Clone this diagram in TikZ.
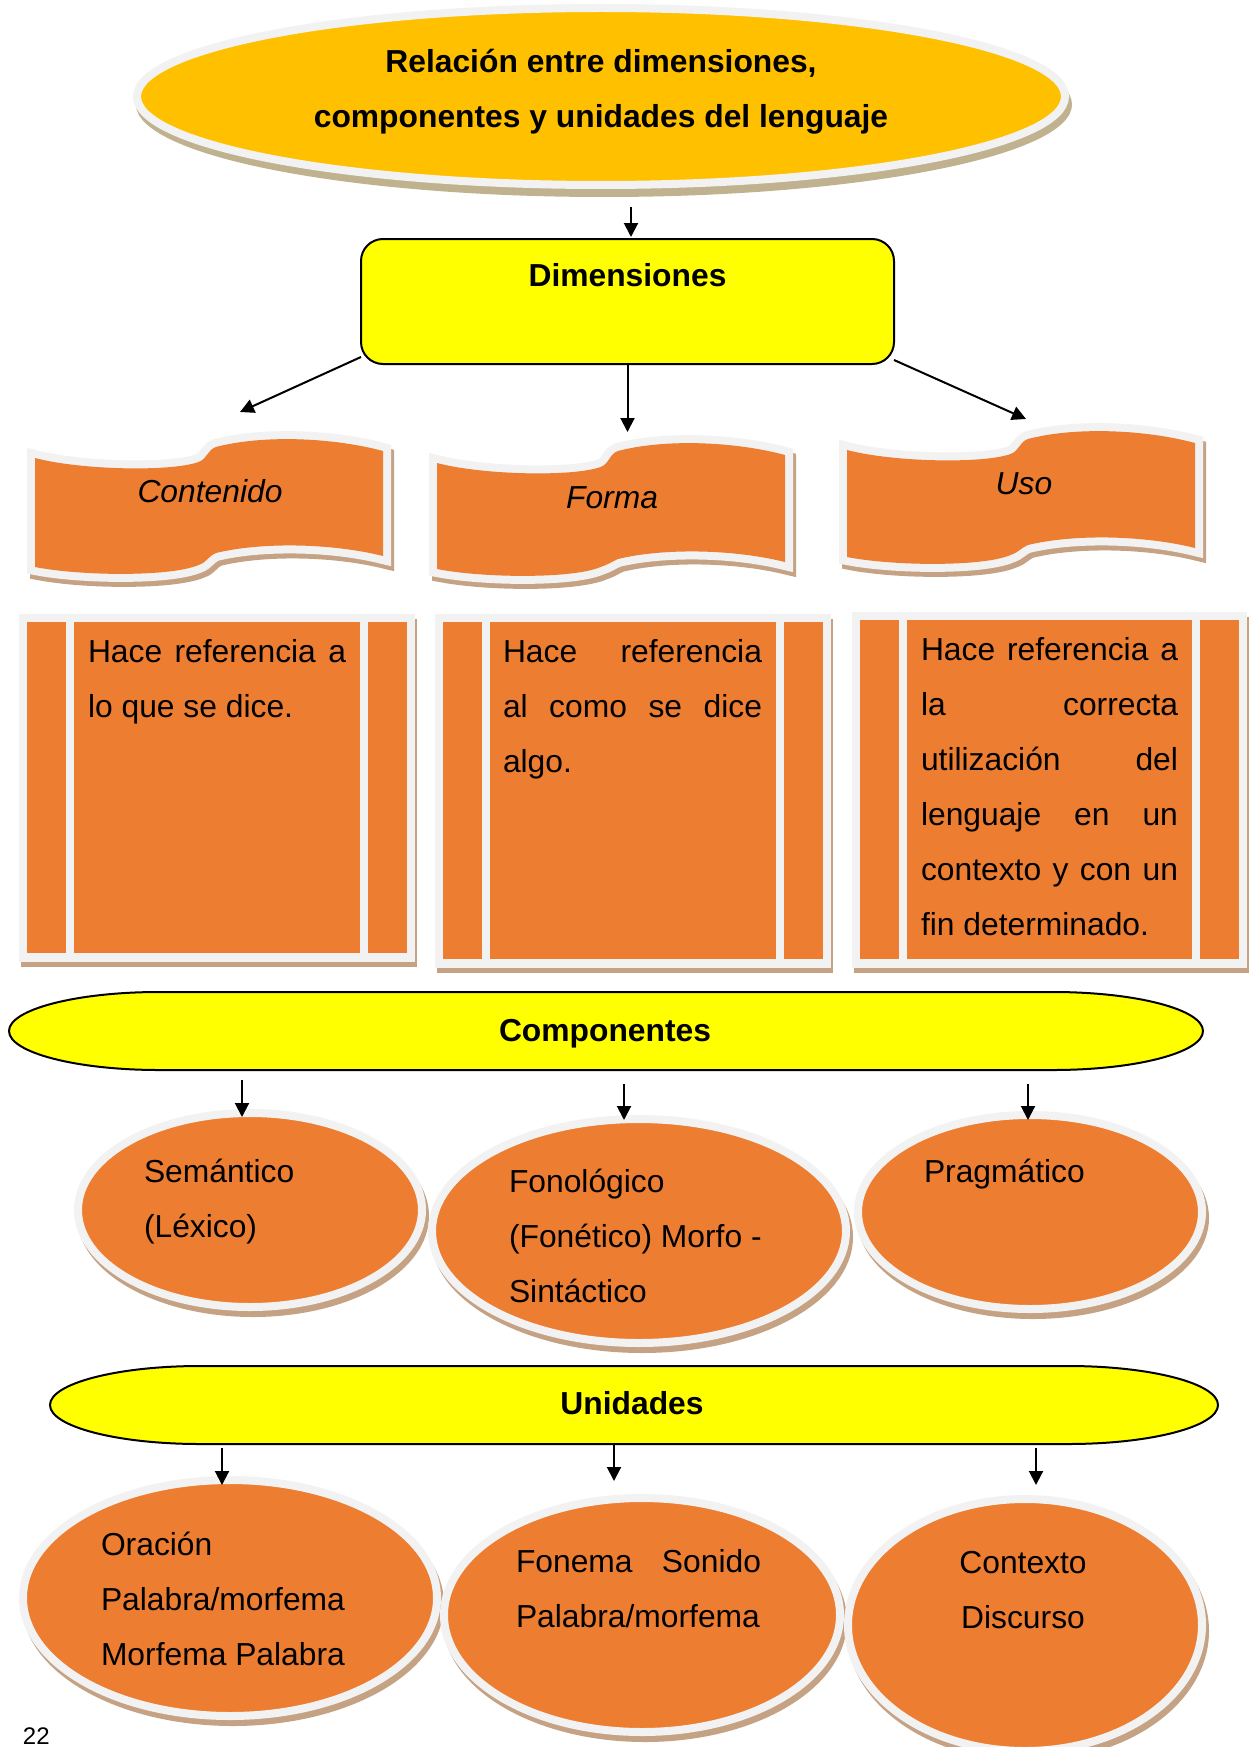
\documentclass[tikz,border=0pt]{standalone}
\usepackage{fontspec}
\setmainfont{Liberation Sans}
\usetikzlibrary{shapes.geometric,arrows.meta}
\definecolor{orng}{HTML}{ED7D31}
\definecolor{ring}{HTML}{F2F2F2}
\definecolor{shad}{RGB}{198,162,132}
\definecolor{tshad}{RGB}{192,178,142}
\definecolor{gold}{HTML}{FFC000}
\definecolor{yel}{HTML}{FFFF00}
\newcommand{\bigf}{\fontsize{31.8}{55}\selectfont}
\newcommand{\jst}{\spaceskip=0.278em plus 6em\relax\tolerance=10000 \hbadness=10000 }
% wave: L R TL TR BL BR
\newcommand{\wavep}[6]{(#1,#3) .. controls ({#1+.13*(#2-#1)},{#3+12}) and ({#1+.39*(#2-#1)},{#3+14}) .. ({#1+.47*(#2-#1)},{#3+4}) .. controls ({#1+.495*(#2-#1)},{#3+1}) and ({#1+.495*(#2-#1)},{#4-1}) .. ({#1+.52*(#2-#1)},{#4-4}) .. controls ({#1+.65*(#2-#1)},{#4-16}) and ({#1+.85*(#2-#1)},{#4-14}) .. (#2,#4) -- (#2,#6) .. controls ({#1+.85*(#2-#1)},{#6-13}) and ({#1+.65*(#2-#1)},{#6-14}) .. ({#1+.52*(#2-#1)},{#6-3}) .. controls ({#1+.495*(#2-#1)},{#6+1}) and ({#1+.495*(#2-#1)},{#5-5}) .. ({#1+.47*(#2-#1)},{#5-2}) .. controls ({#1+.39*(#2-#1)},{#5+10}) and ({#1+.13*(#2-#1)},{#5+9}) .. (#1,#5) -- cycle}
% capped oval: cx cy rx ry a
\newcommand{\capov}[5]{({#1-#3},#2) .. controls ({#1-#3},{#2-0.552*#4}) and ({#1-#3+0.448*#5},{#2-#4}) .. ({#1-#3+#5},{#2-#4}) -- ({#1+#3-#5},{#2-#4}) .. controls ({#1+#3-0.448*#5},{#2-#4}) and ({#1+#3},{#2-0.552*#4}) .. ({#1+#3},#2) .. controls ({#1+#3},{#2+0.552*#4}) and ({#1+#3-0.448*#5},{#2+#4}) .. ({#1+#3-#5},{#2+#4}) -- ({#1-#3+#5},{#2+#4}) .. controls ({#1-#3+0.448*#5},{#2+#4}) and ({#1-#3},{#2+0.552*#4}) .. cycle}
% panel: L T R B
\newcommand{\panelbox}[4]{%
  \fill[shad] ({#1+2},{#2+5}) rectangle ({#3+2},{#4+5});
  \fill[ring] (#1,#2) rectangle (#3,#4);
  \fill[orng] ({#1+8},{#2+8}) rectangle ({#1+47},{#4-9});
  \fill[orng] ({#1+55},{#2+8}) rectangle ({#3-55},{#4-9});
  \fill[orng] ({#3-47},{#2+8}) rectangle ({#3-8},{#4-9});}
% oval: name cx cy rx ry
\newcommand{\ovl}[5]{%
  \fill[shad] ({#2+3},{#3+6}) ellipse [x radius={#4+4}, y radius={#5+4}];
  \node[ovalnode, minimum width={2*#4}, minimum height={2*#5}] (#1) at (#2,#3) {};}
\begin{document}
\begin{tikzpicture}[x=1pt,y=-1pt,
  every node/.style={inner sep=0pt, outer sep=0pt},
  font=\bigf,
  arr/.style={line width=2pt,-{Triangle[length=14pt,width=14pt]}},
  ovalnode/.style={ellipse, fill=orng, draw=ring, line width=8pt},
  bar/.style={draw=black, line width=2pt, fill=yel},
  head/.style={anchor=base, font=\bigf\bfseries},
  lbl/.style={anchor=base, font=\bigf\itshape}]
\fill[white] (0,0) rectangle (1248,1747);
\useasboundingbox (0,0) rectangle (1248,1747);

% Title
\fill[tshad] (604,104.5) ellipse [x radius=468, y radius=92.5];
\node[ellipse, fill=gold, draw=ring, line width=8pt, minimum width=928pt, minimum height=177pt] (title) at (601,96.5) {};
\node[head] (ttxt) at (601,73) {\begin{minipage}[t]{800pt}\centering Relación entre dimensiones,\\ componentes y unidades del lenguaje\end{minipage}};

% Dimensiones
\node[draw=black, line width=2pt, fill=yel, rounded corners=22pt, minimum width=533pt, minimum height=125pt] (dim) at (627.5,301.5) {};
\node[head] (dimt) at (627.5,286) {Dimensiones};
\coordinate (a0) at (631,237);
\draw[arr, shorten <=22pt] (title.south -| a0) -- (a0);

% Waves
\begin{scope}[line width=16pt]
  \filldraw[shad, shift={(3,5)}] \wavep{35}{383}{458}{451}{567}{556};
  \filldraw[shad, shift={(3,5)}] \wavep{437}{785}{463}{455}{569}{562};
  \filldraw[shad, shift={(3,5)}] \wavep{847}{1195}{450}{443}{557}{548};
  \draw[ring] \wavep{35}{383}{458}{451}{567}{556};
  \draw[ring] \wavep{437}{785}{463}{455}{569}{562};
  \draw[ring] \wavep{847}{1195}{450}{443}{557}{548};
  \fill[orng] \wavep{35}{383}{458}{451}{567}{556};
  \fill[orng] \wavep{437}{785}{463}{455}{569}{562};
  \fill[orng] \wavep{847}{1195}{450}{443}{557}{548};
\end{scope}
\node[lbl] (cont) at (210,502) {Contenido};
\node[lbl] (forma) at (612,508) {Forma};
\node[lbl] (uso) at (1024,494) {Uso};

\coordinate (cont-in) at (240,412);
\coordinate (forma-in) at (627.5,432);
\coordinate (uso-in) at (1026,419);
\draw[arr] ([yshift=7pt]dim.south west) -- (cont-in);
\draw[arr] (dim.south) -- (forma-in);
\draw[arr] ([yshift=4pt]dim.south east) -- (uso-in);

% Panels
\panelbox{19}{614}{415}{962}
\panelbox{435}{614}{831}{968}
\panelbox{852}{612}{1247}{968}
\node[anchor=base west] (p1) at (88,662) {\begin{minipage}[t]{258pt}\jst Hace referencia a\linebreak lo que se dice.\end{minipage}};
\node[anchor=base west] (p2) at (503,662) {\begin{minipage}[t]{259pt}\jst Hace referencia\linebreak al como se dice\linebreak algo.\end{minipage}};
\node[anchor=base west] (p3) at (921,660) {\begin{minipage}[t]{257pt}\jst Hace referencia a\linebreak la correcta\linebreak utilización del\linebreak lenguaje en un\linebreak contexto y con un\linebreak fin determinado.\end{minipage}};

% Componentes
\filldraw[bar] \capov{606}{1031}{597}{39}{150};
\node[minimum width=1194pt, minimum height=78pt] (comp) at (606,1031) {};
\node[head] (compt) at (605,1041) {Componentes};
\ovl{sem}{250}{1210}{172}{97}
\ovl{fon}{639}{1231}{207}{112}
\ovl{prag}{1030}{1212}{172}{97}
\coordinate (sem-in) at (242,1117);
\coordinate (fon-in) at (624,1120);
\coordinate (prag-in) at (1028,1120);
\draw[arr, shorten <=10pt] (comp.south -| sem-in) -- (sem-in);
\draw[arr, shorten <=14pt] (comp.south -| fon-in) -- (fon-in);
\draw[arr, shorten <=14pt] (comp.south -| prag-in) -- (prag-in);
\node[anchor=base west] (semt) at (144,1182) {\begin{minipage}[t]{300pt}Semántico\\(Léxico)\end{minipage}};
\node[anchor=base west] (fonot) at (509,1192) {\begin{minipage}[t]{300pt}Fonológico\\(Fonético) Morfo -\\Sintáctico\end{minipage}};
\node[anchor=base west] (pragt) at (924,1182) {Pragmático};

% Unidades
\filldraw[bar] \capov{634}{1405}{584}{39}{150};
\node[minimum width=1168pt, minimum height=78pt] (unid) at (634,1405) {};
\node[head] (unidt) at (632,1414) {Unidades};
\ovl{ora}{230}{1598}{207}{118}
\ovl{fnm}{642}{1615}{198}{117}
\ovl{ctx}{1025}{1625}{177}{126}
\coordinate (ora-in) at (222,1485);
\coordinate (fnm-in) at (614,1481);
\coordinate (ctx-in) at (1036,1485);
\draw[arr, shorten <=4pt] (unid.south -| ora-in) -- (ora-in);
\draw[arr, shorten <=1pt] (unid.south -| fnm-in) -- (fnm-in);
\draw[arr, shorten <=4pt] (unid.south -| ctx-in) -- (ctx-in);
\node[anchor=base west] (orat) at (101,1555) {\begin{minipage}[t]{340pt}Oración\\Palabra/morfema\\Morfema Palabra\end{minipage}};
\node[anchor=base west] (fnmt) at (516,1572) {\begin{minipage}[t]{245pt}\jst Fonema Sonido\linebreak Palabra/morfema\end{minipage}};
\node[anchor=base] (ctxt) at (1023,1573) {\begin{minipage}[t]{300pt}\centering Contexto\\Discurso\end{minipage}};

\node[anchor=base west, font=\fontsize{24}{28}\selectfont] (pg) at (23,1744) {22};
\end{tikzpicture}
\end{document}
